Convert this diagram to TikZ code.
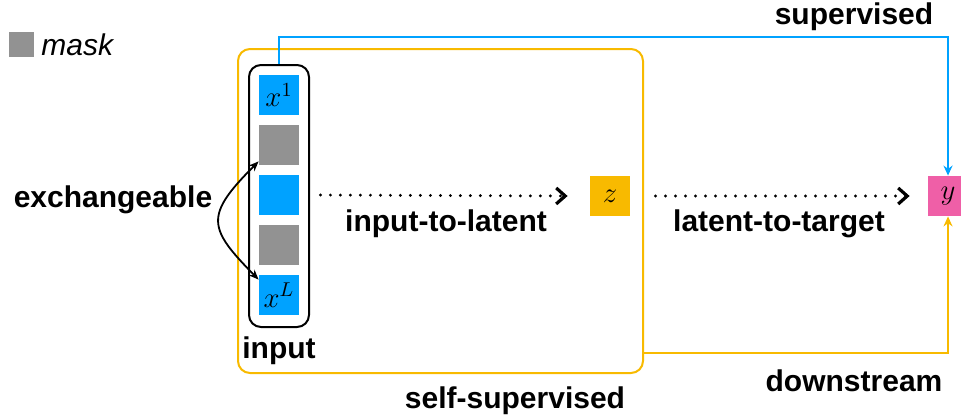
\documentclass[tikz,border=0pt]{standalone}
\usepackage{fontspec}
\setmainfont{Liberation Sans}
\usepackage{tikz}
\usetikzlibrary{arrows.meta, positioning}
\definecolor{ssgray}{HTML}{929292}
\definecolor{ssblue}{HTML}{00A2FF}
\definecolor{ssyellow}{HTML}{F8BA00}
\definecolor{sspink}{HTML}{EF5FA7}

\begin{document}
\begin{tikzpicture}[
  x=0.5pt, y=-0.5pt,
  every node/.style={font=\fontsize{15}{18}\selectfont},
  token/.style={fill=ssblue, minimum size=20pt, inner sep=0pt},
  masked/.style={token, fill=ssgray},
  tag/.style={font=\fontsize{15}{18}\selectfont\bfseries, anchor=base},
  flow/.style={-{Straight Barb[length=4.5pt, width=8pt, line width=1.6pt]},
               line width=1.6pt, line cap=round, dash pattern=on 0pt off 5pt},
  sup/.style={-{Stealth[length=5pt, width=4.5pt]}, line width=1pt, color=ssblue},
  down/.style={-{Stealth[length=5pt, width=4.5pt]}, line width=1pt, color=ssyellow},
  swap/.style={{Stealth[length=5pt, width=4pt]}-{Stealth[length=5pt, width=4pt]}, line width=0.9pt}
]
\useasboundingbox (0,0) rectangle (961,418);
\clip (0,0) rectangle (961,418);

\node[masked, minimum size=12.5pt] (legend) at (21.5,44.5) {};
\node[right=0pt of legend, font=\fontsize{15}{18}\selectfont\itshape] (masklbl) {mask};

\node[draw=ssyellow, line width=1pt, rounded corners=6pt,
      minimum width=202.5pt, minimum height=162pt] (ssl) at (440.5,211) {};
\node[draw, line width=1pt, rounded corners=6pt,
      minimum width=30pt, minimum height=131pt] (input) at (279,196) {};

\node[token] (x1) at (279,95) {\Large$x^1$};
\node[masked] (m2) at (279,145) {};
\node[token] (x3) at (279,195) {};
\node[masked] (m4) at (279,245) {};
\node[token] (xL) at (279,295) {\Large$x^L$};

\node[fill=ssyellow, minimum size=20pt, inner sep=0pt] (z) at (610,196) {\Large$z$};
\node[fill=sspink, minimum size=20pt, inner sep=0pt] (y) at (948,196) {\Large$y$};

\node[tag] (inlbl) at (279,358) {input};
\node[tag] (exch) at (113,207) {exchangeable};
\node[tag] (i2l) at (446,231) {input-to-latent};
\node[tag] (l2t) at (779,231) {latent-to-target};
\node[tag] (supl) at (854,24) {supervised};
\node[tag] (downl) at (854,391) {downstream};
\node[tag] (ssl-lbl) at (515,408) {self-supervised};

\draw[flow] ([xshift=10.5pt]x3.east) -- ([xshift=-11pt]z.west);
\draw[flow] ([xshift=12.5pt]z.east) -- ([xshift=-9pt]y.west);

\draw[swap] ([yshift=2pt]m2.south west) .. controls (204,216) and (208,228) .. ([yshift=-2.5pt]xL.north west);

\draw[sup] (input.north) -- ++(0,-27) -| (y.north);
\draw[down] ([yshift=10.5pt]ssl.south east) -| (y.south);

\end{tikzpicture}
\end{document}
